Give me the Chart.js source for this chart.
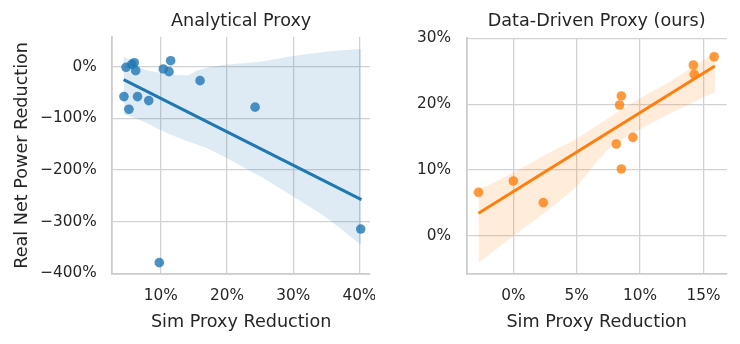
<!DOCTYPE html>
<html>
<head>
<meta charset="utf-8">
<script src="https://cdn.jsdelivr.net/npm/chart.js@4.4.1/dist/chart.umd.min.js"></script>
<style>
  body { margin: 0; background: #fff; }
  #wrap { position: relative; width: 740px; height: 344px; }
  canvas { position: absolute; top: 0; }
</style>
</head>
<body>
<div id="wrap">
  <canvas id="leftChart" width="375" height="344" style="left:0"></canvas>
  <canvas id="rightChart" width="365" height="344" style="left:375px"></canvas>
</div>
<script>
// Analytical proxy (left panel), values in %
const leftX = [4.76, 5.62, 6.01, 6.22, 4.45, 5.2, 6.5, 8.19, 10.39, 11.25, 11.5, 15.94, 24.25, 9.79, 40.2];
const leftY = [-1.2, 4.6, 7.7, -7.7, -57.9, -82.3, -57.9, -65.6, -4.4, -9.6, 11.6, -27, -78.3, -379, -314];
const leftFitX = [4.4, 40.3];
const leftFitY = [-25, -257];
const leftBandX = [4.4, 7.4, 9.9, 12.4, 14.2, 15.4, 17, 20, 25, 30, 35, 40.3];
const leftBandUpper = [20, -5, -11.5, -16, -16, -8, -2, 4, 9.6, 20.6, 29, 34];
const leftBandLower = [-92, -106, -122, -136, -145, -150, -158, -177, -212, -251, -292, -345];
const leftXTicks = [10, 20, 30, 40];
const leftYTicks = [0, -100, -200, -300, -400];

// Data-driven proxy (right panel), values in %
const rightX = [-2.75, 0, 2.36, 8.12, 8.52, 8.38, 8.52, 9.43, 14.2, 14.27, 15.84];
const rightY = [6.63, 8.35, 5.06, 13.96, 10.17, 19.88, 21.25, 14.97, 25.95, 24.54, 27.2];
const rightFitX = [-2.75, 15.9];
const rightFitY = [3.45, 25.8];
const rightBandX = [-2.75, 0, 2.5, 5, 7.5, 10, 12.5, 15.9];
const rightBandUpper = [7.0, 9.6, 12.3, 14.8, 17.9, 20.9, 23.6, 27.8];
const rightBandLower = [-4.05, 0, 3.6, 7.6, 13.2, 16.2, 18.7, 21.9];
const rightXTicks = [0, 5, 10, 15];
const rightYTicks = [0, 10, 20, 30];

const FONT = '"DejaVu Sans", sans-serif';
const TEXT = '#262626';
const GRID = '#d2d2d2';
const LABEL_SIZE = 17.6;

const pct = v => (v < 0 ? '\u2212' + Math.abs(v) : v) + '%';
const pts = (xs, ys) => xs.map((x, i) => ({ x: x, y: ys[i] }));

function makeChart(id, p) {
  const ctx = document.getElementById(id).getContext('2d');
  const lh = LABEL_SIZE * 1.2;
  return new Chart(ctx, {
    type: 'scatter',
    data: {
      datasets: [
        {
          type: 'line', data: pts(p.fitX, p.fitY), borderColor: p.color, borderWidth: 3,
          pointRadius: 0, fill: false, order: 0
        },
        {
          data: pts(p.x, p.y), backgroundColor: p.dot, borderWidth: 0,
          pointRadius: 4.8, pointHoverRadius: 4.8, order: 1
        },
        {
          type: 'line', data: pts(p.bandX, p.upper), borderWidth: 0, pointRadius: 0,
          backgroundColor: p.band, fill: '+1', tension: 0.25, order: 2
        },
        {
          type: 'line', data: pts(p.bandX, p.lower), borderWidth: 0, pointRadius: 0,
          backgroundColor: p.band, fill: false, tension: 0.25, order: 3
        }
      ]
    },
    options: {
      responsive: false,
      animation: false,
      devicePixelRatio: 1,
      layout: { padding: { left: 0, right: p.padRight, top: 0, bottom: 0 } },
      plugins: {
        legend: { display: false },
        tooltip: { enabled: false },
        title: {
          display: true, text: p.title, fullSize: false, color: TEXT,
          font: { family: FONT, size: LABEL_SIZE, weight: 'normal' },
          padding: { top: 21.4 - lh / 2, bottom: p.top - 21.4 - lh / 2 }
        }
      },
      scales: {
        x: {
          type: 'linear', min: p.xMin, max: p.xMax,
          afterBuildTicks: s => { s.ticks = p.xTicks.map(v => ({ value: v })); },
          afterFit: s => { s.height = 70; s.paddingLeft = 0; s.paddingRight = 0; },
          ticks: {
            callback: pct, color: TEXT, padding: 13, maxRotation: 0, autoSkip: false,
            font: { family: FONT, size: 15.3 }
          },
          grid: { color: GRID, lineWidth: 1.3, drawTicks: false },
          border: { color: '#cccccc', width: 1.8 },
          title: {
            display: true, text: 'Sim Proxy Reduction', color: TEXT,
            font: { family: FONT, size: LABEL_SIZE }, padding: { top: 0, bottom: 344 - 322.4 - lh / 2 }
          }
        },
        y: {
          type: 'linear', min: p.yMin, max: p.yMax,
          afterBuildTicks: s => { s.ticks = p.yTicks.map(v => ({ value: v })); },
          afterFit: s => { s.width = p.yWidth; s.paddingTop = 0; s.paddingBottom = 0; },
          ticks: {
            callback: pct, color: TEXT, padding: 15.6, autoSkip: false,
            font: { family: FONT, size: 15.3 }
          },
          grid: { color: GRID, lineWidth: 1.3, drawTicks: false },
          border: { color: '#cccccc', width: 1.8 },
          title: {
            display: p.yTitle !== '', text: p.yTitle, color: TEXT,
            font: { family: FONT, size: LABEL_SIZE }, padding: { top: 22.4 - lh / 2, bottom: 0 }
          }
        }
      }
    }
  });
}

makeChart('leftChart', {
  title: 'Analytical Proxy', yTitle: 'Real Net Power Reduction',
  x: leftX, y: leftY, fitX: leftFitX, fitY: leftFitY,
  bandX: leftBandX, upper: leftBandUpper, lower: leftBandLower,
  xTicks: leftXTicks, yTicks: leftYTicks,
  xMin: 2.69, xMax: 41.6, yMin: -401, yMax: 58,
  color: '#1f77b4', dot: 'rgba(31,119,180,0.8)', band: 'rgba(31,119,180,0.15)',
  yWidth: 112.3, padRight: 5, top: 36.7
});

makeChart('rightChart', {
  title: 'Data-Driven Proxy (ours)', yTitle: '',
  x: rightX, y: rightY, fitX: rightFitX, fitY: rightFitY,
  bandX: rightBandX, upper: rightBandUpper, lower: rightBandLower,
  xTicks: rightXTicks, yTicks: rightYTicks,
  xMin: -3.68, xMax: 16.83, yMin: -5.77, yMax: 30,
  color: '#ff7f0e', dot: 'rgba(255,127,14,0.8)', band: 'rgba(255,127,14,0.15)',
  yWidth: 91.7, padRight: 13.3, top: 38.3
});
</script>
</body>
</html>
